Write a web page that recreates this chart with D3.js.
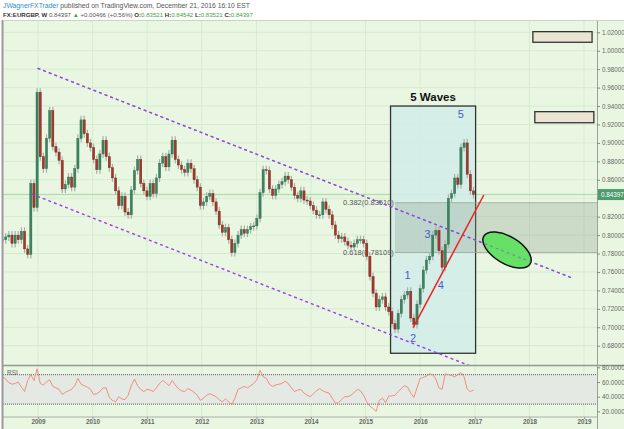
<!DOCTYPE html>
<html><head><meta charset="utf-8">
<script src="https://cdn.jsdelivr.net/npm/d3@7"></script>
<style>
html,body{margin:0;padding:0;background:#fff;}
svg{display:block;font-family:"Liberation Sans",Arial,sans-serif;}
</style></head>
<body>
<svg id="chart" width="624" height="429"></svg>
<script>
// ---------- DATA ----------
// 3-week sampled closes of EURGBP (weekly chart), first bar ~ 2008-05-09
const startDate = "2008-05-09";
const stepDays = 21;
const closes = [
0.795,0.798,0.800,0.791,0.800,0.795,0.804,0.785,0.779,0.856,
0.830,0.955,0.885,0.872,0.905,0.935,0.896,0.890,0.881,0.850,
0.855,0.863,0.852,0.872,0.905,0.925,0.910,0.900,0.895,0.882,
0.871,0.888,0.903,0.885,0.873,0.862,0.848,0.832,0.842,0.825,
0.822,0.849,0.870,0.882,0.856,0.848,0.842,0.856,0.845,0.862,
0.878,0.885,0.874,0.888,0.903,0.882,0.876,0.871,0.868,0.878,
0.872,0.860,0.852,0.832,0.836,0.842,0.845,0.836,0.826,0.811,
0.803,0.808,0.795,0.781,0.791,0.800,0.806,0.802,0.806,0.809,
0.810,0.818,0.846,0.871,0.870,0.850,0.843,0.850,0.855,0.858,
0.864,0.860,0.852,0.843,0.840,0.848,0.838,0.837,0.832,0.827,
0.822,0.822,0.836,0.828,0.822,0.811,0.800,0.796,0.798,0.793,
0.789,0.787,0.791,0.795,0.795,0.791,0.777,0.755,0.737,0.722,
0.730,0.733,0.722,0.717,0.704,0.698,0.715,0.730,0.735,0.739,
0.710,0.703,0.725,0.742,0.762,0.773,0.777,0.800,0.805,0.783,
0.765,0.790,0.840,0.845,0.862,0.855,0.895,0.900,0.866,0.848,
0.84397];
const rsiValues = [
67,64,59,57,58,60,53,47,62,70,
62,78,58,56,60,63,54,52,50,43,
46,48,50,55,65,57,55,53,50,43,
44,47,52,52,39,35,33,40,37,36,
42,55,64,55,50,47,50,49,47,52,
58,62,59,55,62,56,51,48,47,51,
49,46,42,35,38,42,44,42,40,36,
33,37,33,29,38,50,52,54,52,55,
58,63,76,67,65,57,54,56,57,58,
61,58,52,47,49,50,45,42,40,44,
48,51,48,46,45,38,31,32,36,40,
40,42,46,50,48,42,33,27,24,20,
35,38,32,41,41,42,47,51,55,53,
45,39,52,65,66,68,71,70,64,52,
50,71,70,69,67,70,73,67,50,47,
49];
const priceTicks = [1.02,1.00,0.98,0.96,0.94,0.92,0.90,0.88,0.86,0.84,0.82,0.80,0.78,0.76,0.74,0.72,0.70,0.68];
const rsiTicks = [80,60,40,20];
const rsiBands = [70,30];
const yearTicks = ["2009","2010","2011","2012","2013","2014","2015","2016","2017","2018","2019"];
const lastPrice = 0.84397;
// annotations (date, price)
const upperChannel = [["2008-12-29",0.981],["2018-10-19",0.7531]];
const lowerChannel = [["2008-11-19",0.8446],["2017-01-01",0.6561]];
const trendLine = [["2015-11-15",0.6995],["2017-03-02",0.8435]];
const waveBox = [["2015-06-17",0.940],["2017-01-06",0.6718]];
const fibLevels = [["0.382(0.83510)",0.8351],["0.618(0.78109)",0.78109]];
const fibStart = "2015-07-16";
const waveLabels = [["1","2015-10-09",0.7567],["2","2015-11-15",0.688],["3","2016-02-19",0.8009],["4","2016-05-18",0.7459],["5","2016-09-29",0.9314]];
const targetEllipse = ["2017-08-04",0.7838];
const noteBoxes = [[["2018-01-24",1.0207],["2019-02-24",1.0092]],[["2018-02-06",0.9339],["2019-03-08",0.9219]]];

// ---------- LAYOUT ----------
const W=624,H=429;
const L=3,R=597,T=20,PB=365,RT=366,RB=417;
const parse=d3.timeParse("%Y-%m-%d");
const svg=d3.select("#chart");
const bg="#e9f7e2", grid="#d6ebcf";

const x=d3.scaleTime().domain([parse("2009-01-01"),parse("2019-01-01")]).range([38,584]);
const y=d3.scaleLinear().domain([0.68,1.02]).range([345.7,32.3]);
const yR=d3.scaleLinear().domain([20,80]).range([411.4,367.3]);

const start=parse(startDate);
const bars=closes.map((c,i)=>({date:d3.timeDay.offset(start,stepDays*i),close:c,open:i?closes[i-1]:c,rsi:rsiValues[i]}));

// background
svg.append("rect").attr("width",W).attr("height",H).attr("fill","#fff");
svg.append("rect").attr("x",L).attr("y",T).attr("width",W-L).attr("height",H-T).attr("fill",bg);

// grid
const g=svg.append("g");
g.selectAll(".hg").data(priceTicks).join("line").attr("x1",L).attr("x2",R)
 .attr("y1",d=>y(d)).attr("y2",d=>y(d)).attr("stroke",grid).attr("stroke-width",1);
g.selectAll(".vg").data(yearTicks).join("line").attr("x1",d=>x(parse(d+"-01-01"))).attr("x2",d=>x(parse(d+"-01-01")))
 .attr("y1",T).attr("y2",RB).attr("stroke",grid).attr("stroke-width",1);

// clip
svg.append("clipPath").attr("id","pc").append("rect").attr("x",L).attr("y",T).attr("width",R-L).attr("height",PB-T);
const P=svg.append("g").attr("clip-path","url(#pc)");

// last price line
P.append("line").attr("x1",L).attr("x2",R).attr("y1",y(lastPrice)).attr("y2",y(lastPrice))
 .attr("stroke","#b6ddb1").attr("stroke-width",1.6);

// wave box
const wb=waveBox.map(d=>[x(parse(d[0])),y(d[1])]);
P.append("rect").attr("x",wb[0][0]).attr("y",wb[0][1]).attr("width",wb[1][0]-wb[0][0]).attr("height",wb[1][1]-wb[0][1])
 .attr("fill","#d3ece8").attr("fill-opacity",0.9).attr("stroke","#333").attr("stroke-width",1.3);

// fib zone
const fx=x(parse(fibStart));
P.append("rect").attr("x",fx).attr("y",y(fibLevels[0][1])).attr("width",R-fx).attr("height",y(fibLevels[1][1])-y(fibLevels[0][1]))
 .attr("fill","#8a9a8a").attr("fill-opacity",0.3);
P.selectAll(".fibl").data(fibLevels).join("line").attr("x1",fx).attr("x2",R).attr("y1",d=>y(d[1])).attr("y2",d=>y(d[1]))
 .attr("stroke","#9aa59a").attr("stroke-width",0.8);
P.selectAll(".fibt").data(fibLevels).join("text").attr("x",fx-1).attr("y",d=>y(d[1])).attr("dy","0.35em")
 .attr("text-anchor","end").attr("font-size",7.5).attr("fill","#555").text(d=>d[0]);

// candles
const bw=2.2;
const cg=P.append("g");
cg.selectAll(".wick").data(bars).join("line")
 .attr("x1",d=>x(d.date)).attr("x2",d=>x(d.date))
 .attr("y1",d=>y(Math.max(d.open,d.close))-4).attr("y2",d=>y(Math.min(d.open,d.close))+4)
 .attr("stroke","#a8aea8").attr("stroke-width",1.2);
cg.selectAll(".body").data(bars).join("rect")
 .attr("x",d=>x(d.date)-bw/2).attr("width",bw)
 .attr("y",d=>y(Math.max(d.open,d.close)))
 .attr("height",d=>Math.max(1,Math.abs(y(d.open)-y(d.close))))
 .attr("fill",d=>d.close>=d.open?"#3b8460":"#a23a2c")
 .attr("stroke",d=>d.close>=d.open?"#2d6a4c":"#6e2218").attr("stroke-width",0.4);

// channel lines
const line=d3.line().x(d=>x(parse(d[0]))).y(d=>y(d[1]));
[upperChannel,lowerChannel].forEach(c=>{
 P.append("path").attr("d",line(c)).attr("fill","none").attr("stroke","#9b3cf0").attr("stroke-width",1.4).attr("stroke-dasharray","3,3");
});
// ellipse
const ex=x(parse(targetEllipse[0])), ey=y(targetEllipse[1]);
P.append("ellipse").attr("cx",ex).attr("cy",ey).attr("rx",27).attr("ry",13.5)
 .attr("transform",`rotate(31,${ex},${ey})`).attr("fill","#66e066").attr("stroke","#111").attr("stroke-width",1.5);
// channel line visible through the ellipse
P.append("path").attr("d",line(upperChannel)).attr("fill","none").attr("stroke","#7a5cc0").attr("stroke-width",1.2).attr("stroke-dasharray","3,3").attr("opacity",0.6);
// trend line
P.append("path").attr("d",line(trendLine)).attr("fill","none").attr("stroke","#f02020").attr("stroke-width",1.5);

// wave labels
P.selectAll(".wl").data(waveLabels).join("text").attr("x",d=>x(parse(d[1]))).attr("y",d=>y(d[2]))
 .attr("dy","0.35em").attr("text-anchor","middle").attr("font-size",11).attr("fill","#4a5ccc").text(d=>d[0]);
P.append("text").attr("x",(wb[0][0]+wb[1][0])/2).attr("y",wb[0][1]-5).attr("text-anchor","middle")
 .attr("font-size",11.5).attr("font-weight","bold").attr("fill","#111").text("5 Waves");

// note boxes
noteBoxes.forEach(b=>{
 const p=b.map(d=>[x(parse(d[0])),y(d[1])]);
 P.append("rect").attr("x",p[0][0]).attr("y",p[0][1]).attr("width",p[1][0]-p[0][0]).attr("height",p[1][1]-p[0][1])
  .attr("fill","#ebe4d2").attr("stroke","#333").attr("stroke-width",1.3);
});

// RSI panel
svg.append("line").attr("x1",L).attr("x2",W).attr("y1",PB+0.5).attr("y2",PB+0.5).attr("stroke","#8f9a8f").attr("stroke-width",1.5);
svg.append("rect").attr("x",L).attr("y",yR(rsiBands[0])).attr("width",R-L).attr("height",yR(rsiBands[1])-yR(rsiBands[0]))
 .attr("fill","#e4e9e3");
svg.selectAll(".band").data(rsiBands).join("line").attr("x1",L).attr("x2",R).attr("y1",d=>yR(d)).attr("y2",d=>yR(d))
 .attr("stroke","#777").attr("stroke-width",1.3).attr("stroke-dasharray","1,1");
svg.append("path").datum(bars).attr("d",d3.line().x(d=>x(d.date)).y(d=>yR(d.rsi)))
 .attr("fill","none").attr("stroke","#f08478").attr("stroke-width",0.9);
svg.append("text").attr("x",7).attr("y",375).attr("font-size",6.5).attr("fill","#666").text("RSI");
svg.append("line").attr("x1",L).attr("x2",R).attr("y1",RB).attr("y2",RB).attr("stroke","#a8b0a8").attr("stroke-width",1);

// axis lines
svg.append("line").attr("x1",R+0.5).attr("x2",R+0.5).attr("y1",T).attr("y2",H).attr("stroke","#9aa29a").attr("stroke-width",1);
svg.append("line").attr("x1",L-0.5).attr("x2",L-0.5).attr("y1",T).attr("y2",H).attr("stroke","#9a9a9a").attr("stroke-width",2);
svg.append("line").attr("x1",L).attr("x2",W).attr("y1",T+0.5).attr("y2",T+0.5).attr("stroke","#c8d6c4").attr("stroke-width",1);

// right price axis (0.84 label sits under the last-price marker, as in the source)
const ay=svg.append("g").attr("transform",`translate(${R},0)`)
 .call(d3.axisRight(y).tickValues(priceTicks).tickFormat(d=>Math.abs(d-0.84)<1e-9?"":d3.format(".5f")(d)).tickSize(3).tickPadding(2));
const ar=svg.append("g").attr("transform",`translate(${R},0)`)
 .call(d3.axisRight(yR).tickValues(rsiTicks).tickFormat(d3.format(".4f")).tickSize(3).tickPadding(2));
[ay,ar].forEach(a=>{a.select(".domain").remove();a.selectAll("line").attr("stroke","#888");
 a.selectAll("text").attr("font-size",6.3).attr("fill","#666").attr("font-family","Liberation Sans, Arial, sans-serif");});

// last price label
svg.append("rect").attr("x",R+1).attr("y",y(lastPrice)-5.5).attr("width",W-R-1).attr("height",11).attr("fill","#4c9c6c");
svg.append("text").attr("x",R+4).attr("y",y(lastPrice)).attr("dy","0.35em").attr("font-size",6.3).attr("fill","#fff").text(d3.format(".5f")(lastPrice));

// bottom time axis
const ax=svg.append("g").attr("transform",`translate(0,${RB})`)
 .call(d3.axisBottom(x).tickValues(yearTicks.map(d=>parse(d+"-01-01"))).tickFormat(d3.timeFormat("%Y")).tickSize(2).tickPadding(1));
ax.select(".domain").remove();
ax.selectAll("line").attr("stroke","#999");
ax.selectAll("text").attr("font-size",6.3).attr("font-weight","bold").attr("fill","#666").attr("font-family","Liberation Sans, Arial, sans-serif");

// header
const h1=svg.append("text").attr("x",3).attr("y",8).attr("font-size",6.8).attr("fill","#555");
h1.append("tspan").attr("fill","#2a8fd6").text("JWagnerFXTrader");
h1.append("tspan").text(" published on TradingView.com, December 21, 2016 16:10 EST");
const h2=svg.append("text").attr("x",3).attr("y",17).attr("font-size",6.1).attr("fill","#555");
h2.append("tspan").attr("font-weight","bold").attr("fill","#333").text("FX:EURGBP, W");
h2.append("tspan").text(" 0.84397 ");
h2.append("tspan").attr("fill","#3aa53a").text("▲");
h2.append("tspan").text(" +0.00466 (+0.56%)");
[["O:","0.83521"],["H:","0.84542"],["L:","0.83521"],["C:","0.84397"]].forEach(p=>{
 h2.append("tspan").attr("font-weight","bold").attr("fill","#333").text(" "+p[0]);
 h2.append("tspan").attr("fill","#3aa53a").text(p[1]);
});
</script>
</body></html>
